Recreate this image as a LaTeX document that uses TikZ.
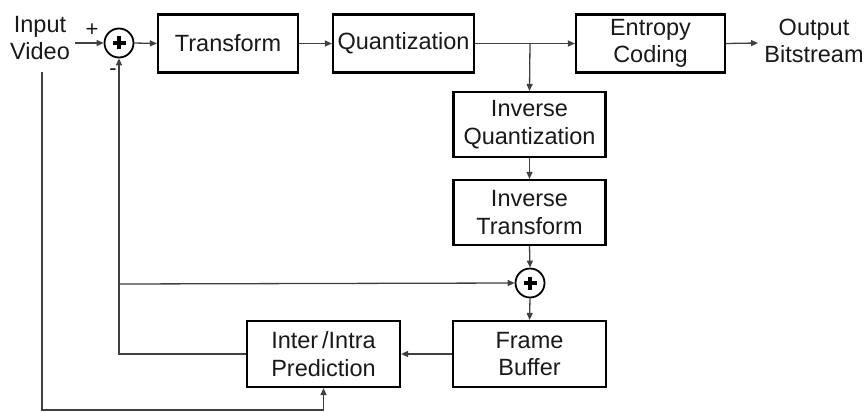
\documentclass[tikz,border=0pt]{standalone}
\usepackage{fontspec}
\setmainfont{Liberation Sans}
\usetikzlibrary{arrows.meta}
\begin{document}
\begin{tikzpicture}[x=1pt,y=-1pt,
  blk/.style={draw=black,line width=2.2pt,minimum height=58pt,align=center,font=\fontsize{23.5}{27.5}\selectfont,text=black!90,inner sep=0pt},
  sumc/.style={draw=black,line width=1.8pt,circle,minimum size=29pt,inner sep=0pt},
  lbl/.style={align=center,font=\fontsize{23.5}{27.5}\selectfont,text=black!90,inner sep=0pt},
  sgn/.style={font=\fontsize{22}{22}\selectfont,text=black!90,inner sep=0pt},
  conn/.style={draw=black!75,line width=1.3pt},
  arr/.style={conn,-{Triangle[length=7pt,width=6pt]}}]
\useasboundingbox (0,0) rectangle (867,412);
% nodes
\node[lbl] (inp) at (40,38) {Input\\Video};
\node[sumc] (s1) at (119,43) {};
\node[blk,minimum width=140pt] (tr) at (228,43.5) {Transform};
\node[blk,minimum width=141pt] (qu) at (403.5,43.5) {Quantization};
\node[blk,minimum width=149pt] (ec) at (650.5,43.5) {Entropy\\Coding};
\node[lbl] (out) at (814,41) {Output\\Bitstream};
\node[blk,minimum width=152pt,minimum height=65pt] (iq) at (529.5,124.5) {Inverse\\Quantization};
\node[blk,minimum width=152pt,minimum height=65pt] (it) at (529.5,212.5) {Inverse\\Transform};
\node[sumc] (s2) at (530,283) {};
\node[blk,minimum width=153pt,minimum height=66pt] (fb) at (529.5,354) {Frame\\Buffer};
\node[blk,minimum width=153pt,minimum height=66pt] (pr) at (323.5,354) {Inter\,/Intra\\Prediction};
% plus signs inside circles
\foreach \s in {s1,s2}{
  \draw[line width=3.2pt,black] ([xshift=-6.5pt]\s.center) -- ([xshift=6.5pt]\s.center);
  \draw[line width=3.2pt,black] ([yshift=-6.5pt]\s.center) -- ([yshift=6.5pt]\s.center);
}
% sign labels
\node[sgn] (plus) at (92,30) {+};
\node[sgn] (minus) at (113,72) {-};
% coordinates
\coordinate (in0) at (75,43);
\coordinate (out0) at (758,43);
\coordinate (br) at (530,43);
\coordinate (jn) at (120,284);
\coordinate (vtop) at (42,72);
\coordinate (vbot) at (42,410);
% connectors
\draw[arr] (in0) -- (s1.west);
\draw[arr] (s1.east) -- (tr.west);
\draw[arr] (tr.east) -- (qu.west);
\draw[arr] (qu.east) -- (ec.west);
\draw[arr] (ec.east) -- (out0);
\draw[arr] (br) -- (iq.north);
\draw[arr] (iq.south) -- (it.north);
\draw[arr] (it.south) -- (s2.north);
\draw[arr] (s2.south) -- (fb.north);
\draw[arr] (fb.west) -- (pr.east);
\draw[arr] (pr.west) -| (s1.south);
\draw[arr] (jn) -- (s2.west);
\draw[arr] (vtop) -- (vbot) -| (pr.south);
\end{tikzpicture}
\end{document}
